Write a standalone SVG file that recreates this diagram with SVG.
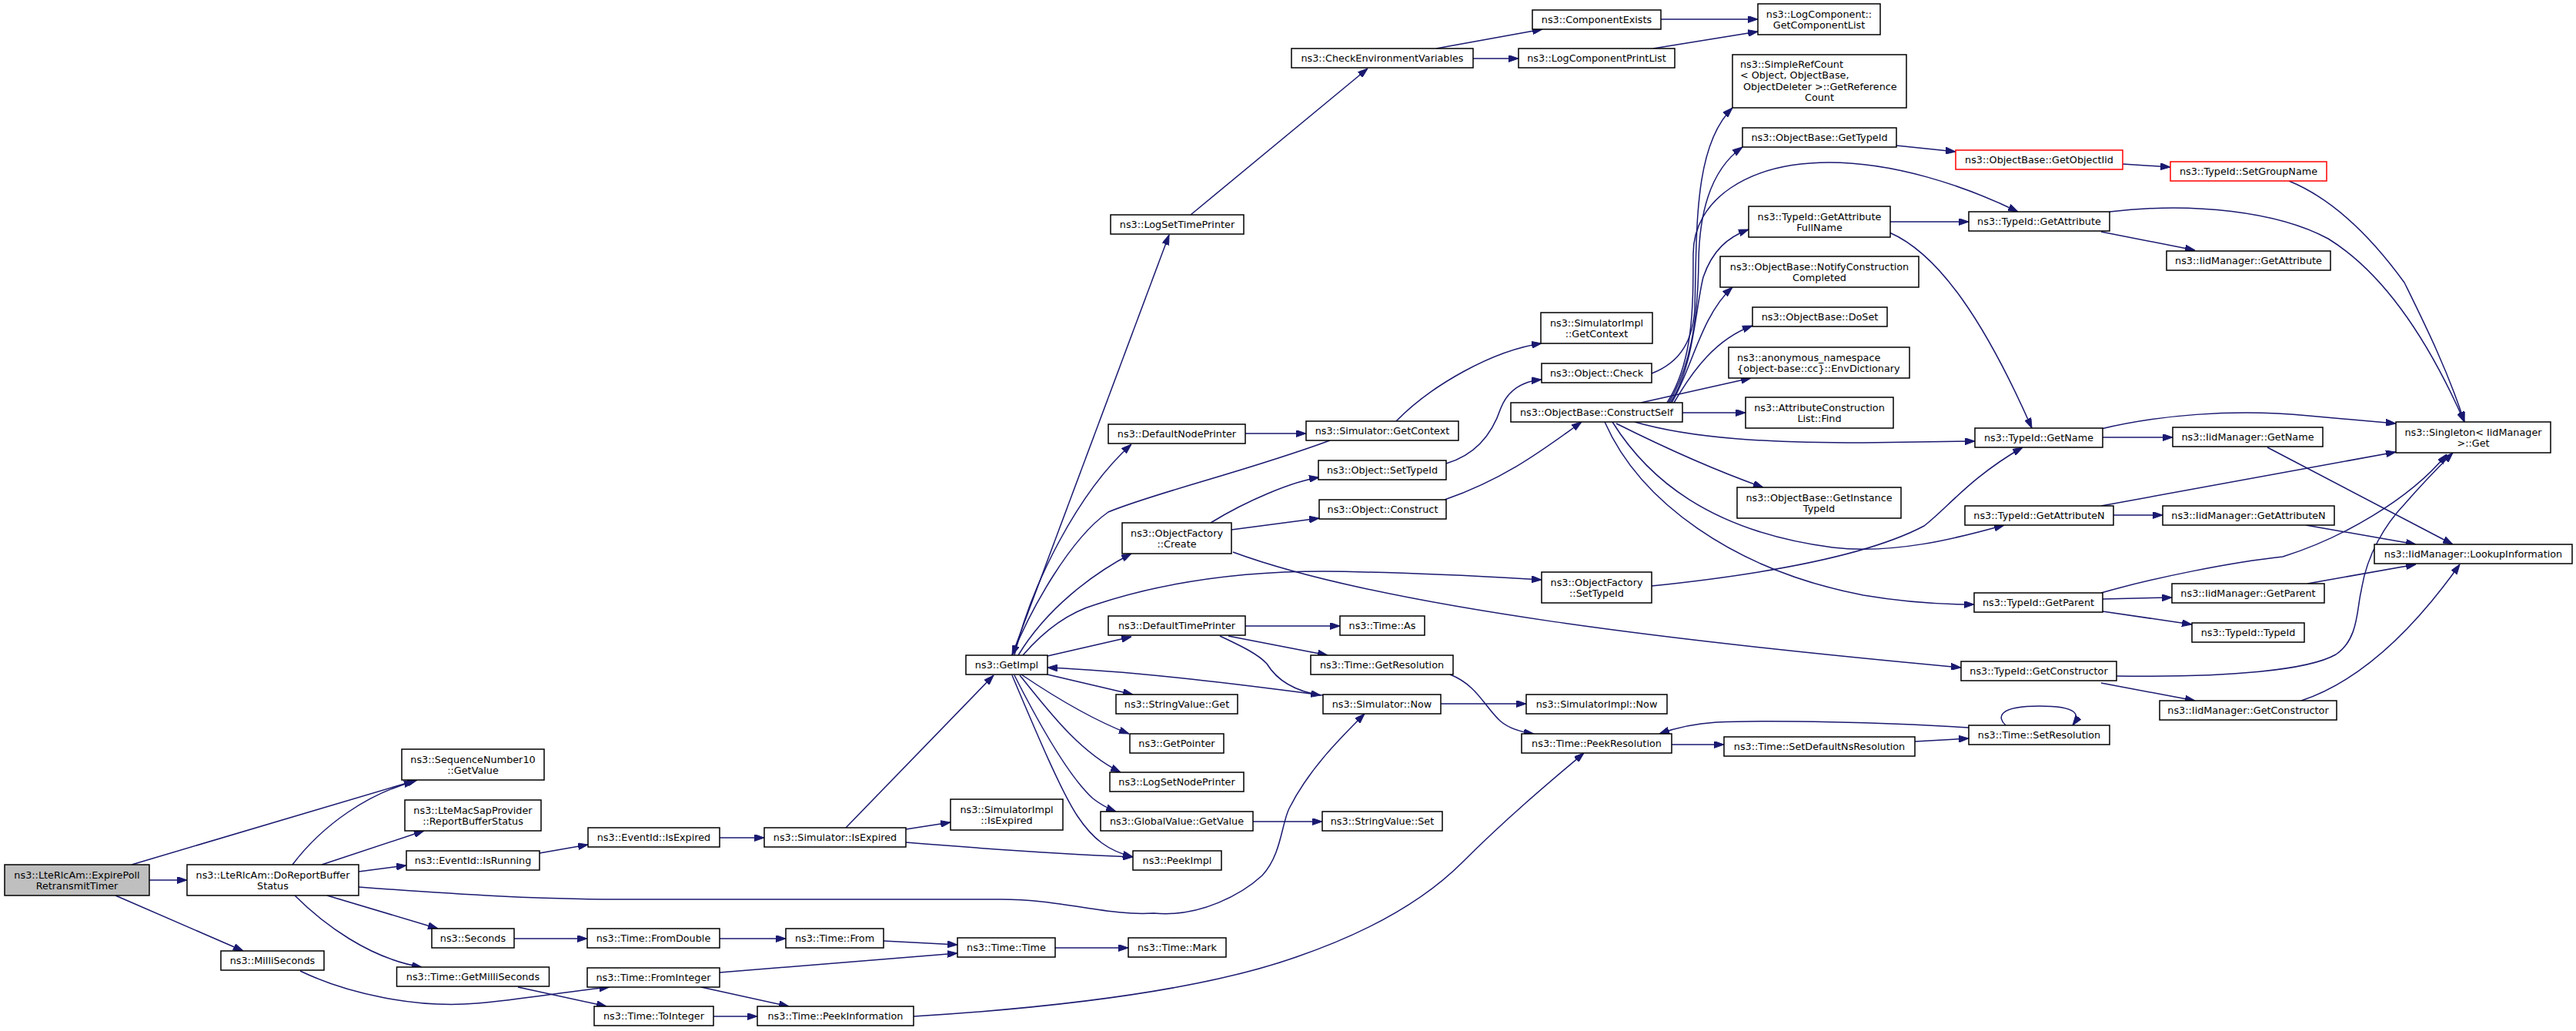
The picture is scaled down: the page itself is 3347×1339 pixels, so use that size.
<svg xmlns="http://www.w3.org/2000/svg" width="3347" height="1339" viewBox="0 0 3347 1339">
<defs>
<style>
.node rect{fill:#ffffff;stroke:#000000;stroke-width:1.5}
.node.root rect{fill:#bfbfbf}
.node.trunc rect{stroke:#ff0000}
.node text{font-family:"DejaVu Sans","Liberation Sans",sans-serif;font-size:12.8px;fill:#000000;text-anchor:middle}
.node text.l{text-anchor:start}
.edges path{fill:none;stroke:#191970;stroke-width:1.5;marker-end:url(#arr)}
</style>
<marker id="arr" markerUnits="userSpaceOnUse" viewBox="0 0 13 9" refX="13" refY="4.5" markerWidth="13" markerHeight="9" orient="auto">
<path d="M0,0 L13,4.5 L0,9 z" fill="#191970" stroke="#191970" stroke-width="1"/>
</marker>
</defs>
<rect width="3347" height="1339" fill="#ffffff"/>
<g id="connectors" class="edges">
<path d="M171,1123 L542,1013"/>
<path d="M194,1143 L243,1143"/>
<path d="M150,1163 L316,1235"/>
<path d="M380,1123 C420,1070 480,1030 538,1015"/>
<path d="M418,1123 L551,1079"/>
<path d="M466,1132 L528,1124"/>
<path d="M466,1152 C600,1162 700,1168 806,1168 L1300,1168 C1380,1168 1440,1190 1499,1186 C1560,1192 1615,1160 1640,1137 C1665,1110 1665,1070 1675,1050 C1700,1000 1740,960 1773,927"/>
<path d="M425,1163 L569,1206"/>
<path d="M383,1163 C420,1200 480,1245 548,1256"/>
<path d="M390,1261 C450,1290 540,1310 620,1303 C680,1298 740,1287 792,1282"/>
<path d="M673,1282 L788,1307"/>
<path d="M701,1108 L764,1097"/>
<path d="M935,1088 L993,1088"/>
<path d="M1177,1077 L1235,1068"/>
<path d="M1177,1094 C1300,1104 1400,1110 1472,1113"/>
<path d="M1099,1075 L1291,877"/>
<path d="M668,1219 L763,1219"/>
<path d="M935,1219 L1021,1219"/>
<path d="M1148,1222 L1244,1227"/>
<path d="M935,1263 L1244,1238"/>
<path d="M911,1282 L1025,1307"/>
<path d="M927,1320 L984,1320"/>
<path d="M1187,1320 C1350,1310 1550,1290 1684,1243 C1780,1210 1850,1170 1900,1120 C1960,1060 2020,1010 2058,978"/>
<path d="M1371,1231 L1466,1231"/>
<path d="M1315,851 L1519,305"/>
<path d="M1318,851 C1340,760 1400,640 1470,577"/>
<path d="M1728,572 C1620,612 1500,640 1440,665 C1390,700 1340,790 1315,851"/>
<path d="M1323,851 C1360,790 1420,745 1470,719"/>
<path d="M1329,851 C1360,815 1390,795 1424,785 C1530,750 1650,738 1774,743 C1870,745 1950,750 2003,753"/>
<path d="M1361,852 L1470,827"/>
<path d="M1618,813 L1741,813"/>
<path d="M1596,826 L1725,851"/>
<path d="M1585,826 C1615,840 1635,850 1646,862 C1660,885 1685,898 1716,903"/>
<path d="M1719,903 C1620,890 1480,872 1361,867"/>
<path d="M1361,876 L1472,902"/>
<path d="M1327,876 C1370,905 1420,935 1467,953"/>
<path d="M1325,877 C1360,920 1400,975 1456,1003"/>
<path d="M1318,877 C1350,940 1390,1010 1420,1037 C1430,1045 1440,1050 1450,1054"/>
<path d="M1315,877 C1350,960 1380,1030 1400,1060 C1420,1090 1440,1105 1472,1113"/>
<path d="M1628,1067 L1718,1067"/>
<path d="M1872,914 L1983,914"/>
<path d="M1884,876 C1920,890 1930,920 1950,937 C1962,947 1978,951 1993,953"/>
<path d="M2172,967 L2240,967"/>
<path d="M2488,963 L2558,959"/>
<path d="M2558,945 C2450,938 2300,935 2230,938 C2200,940 2175,946 2156,953"/>
<path d="M2606,942 C2595,932 2595,917 2650,917 C2700,917 2703,928 2693,942"/>
<path d="M1547,279 L1777,89"/>
<path d="M1866,63 L2004,38"/>
<path d="M1914,76 L1973,76"/>
<path d="M2158,25 L2284,25"/>
<path d="M2148,63 L2284,41"/>
<path d="M1618,563 L1697,563"/>
<path d="M1814,547 C1860,500 1940,455 2003,446"/>
<path d="M1573,679 C1620,650 1680,625 1714,620"/>
<path d="M1600,688 L1714,673"/>
<path d="M1602,717 C1800,790 2200,835 2548,867"/>
<path d="M1879,602 C1920,590 1940,560 1950,530 C1960,505 1980,495 2003,493"/>
<path d="M1877,649 C1960,620 2010,580 2055,548"/>
<path d="M2146,761 C2300,745 2430,720 2500,683 C2530,660 2560,620 2628,581"/>
<path d="M2146,485 C2185,470 2200,440 2202,400 C2205,300 2200,190 2251,140"/>
<path d="M2168,523 C2195,480 2206,420 2207,340 C2208,260 2230,215 2264,191"/>
<path d="M2166,523 C2200,470 2200,400 2200,330 C2200,260 2270,211 2377,211 C2460,211 2550,240 2622,275"/>
<path d="M2170,523 C2200,480 2203,400 2213,360 C2225,325 2245,308 2272,298"/>
<path d="M2172,523 C2198,480 2210,410 2251,373"/>
<path d="M2175,523 C2200,480 2230,440 2277,423"/>
<path d="M2132,523 L2275,491"/>
<path d="M2186,536 L2268,536"/>
<path d="M2124,548 C2200,570 2300,575 2420,575 L2566,573"/>
<path d="M2100,550 C2180,590 2240,615 2291,633"/>
<path d="M2095,548 C2140,620 2220,690 2381,711 C2460,720 2540,700 2604,682"/>
<path d="M2085,548 C2130,650 2250,740 2421,773 C2480,783 2530,785 2565,785"/>
<path d="M2464,189 L2541,197"/>
<path d="M2758,213 L2820,217"/>
<path d="M2974,235 C3040,262 3090,320 3124,367 C3150,420 3180,480 3202,548"/>
<path d="M2741,275 C2850,262 2960,275 3025,310 C3090,350 3150,430 3202,548"/>
<path d="M2456,288 L2558,288"/>
<path d="M2455,302 C2520,330 2580,420 2640,556"/>
<path d="M2730,301 L2852,325"/>
<path d="M2730,557 C2800,540 2900,530 3000,540 L3113,550"/>
<path d="M2732,568 L2823,568"/>
<path d="M2946,581 L3187,707"/>
<path d="M2730,657 L3113,587"/>
<path d="M2746,669 L2810,669"/>
<path d="M2996,682 L3139,707"/>
<path d="M2730,770 C2800,750 2900,730 2966,723 C3040,700 3130,650 3179,590"/>
<path d="M2732,778 L2822,776"/>
<path d="M2732,794 L2848,811"/>
<path d="M2998,758 L3139,733"/>
<path d="M2750,878 C2900,880 3000,870 3035,850 C3065,830 3062,790 3068,767 C3075,720 3100,680 3124,655 C3150,625 3170,605 3187,588"/>
<path d="M2730,887 L2852,910"/>
<path d="M2990,910 C3050,890 3120,840 3196,733"/>
</g>
<g id="n_expire" class="node root"><rect x="6" y="1123" width="188" height="40"/><text x="100" y="1140.5">ns3::LteRlcAm::ExpirePoll</text><text x="100" y="1155">RetransmitTimer</text></g>
<g id="n_dorbs" class="node"><rect x="243" y="1123" width="223" height="40"/><text x="354.5" y="1140.5">ns3::LteRlcAm::DoReportBuffer</text><text x="354.5" y="1155">Status</text></g>
<g id="n_sn10" class="node"><rect x="522" y="973" width="185" height="40"/><text x="614.5" y="990.5">ns3::SequenceNumber10</text><text x="614.5" y="1005">::GetValue</text></g>
<g id="n_lmsp" class="node"><rect x="526" y="1039" width="177" height="40"/><text x="614.5" y="1056.5">ns3::LteMacSapProvider</text><text x="614.5" y="1071">::ReportBufferStatus</text></g>
<g id="n_isrunning" class="node"><rect x="528" y="1105" width="173" height="25"/><text x="614.5" y="1122">ns3::EventId::IsRunning</text></g>
<g id="n_seconds" class="node"><rect x="561" y="1206" width="107" height="25"/><text x="614.5" y="1223">ns3::Seconds</text></g>
<g id="n_milli" class="node"><rect x="287" y="1235" width="134" height="25"/><text x="354" y="1252">ns3::MilliSeconds</text></g>
<g id="n_getms" class="node"><rect x="515.5" y="1256" width="198" height="25"/><text x="614.5" y="1273">ns3::Time::GetMilliSeconds</text></g>
<g id="n_isexpired" class="node"><rect x="764" y="1075" width="171" height="25"/><text x="849.5" y="1092">ns3::EventId::IsExpired</text></g>
<g id="n_simisexp" class="node"><rect x="993" y="1075" width="184" height="25"/><text x="1085" y="1092">ns3::Simulator::IsExpired</text></g>
<g id="n_simimplisexp" class="node"><rect x="1235" y="1038" width="146" height="40"/><text x="1308" y="1055.5">ns3::SimulatorImpl</text><text x="1308" y="1070">::IsExpired</text></g>
<g id="n_fromdouble" class="node"><rect x="763" y="1206" width="172" height="25"/><text x="849" y="1223">ns3::Time::FromDouble</text></g>
<g id="n_from" class="node"><rect x="1021" y="1206" width="127" height="25"/><text x="1084.5" y="1223">ns3::Time::From</text></g>
<g id="n_timetime" class="node"><rect x="1244" y="1218" width="127" height="25"/><text x="1307.5" y="1235">ns3::Time::Time</text></g>
<g id="n_frominteger" class="node"><rect x="763" y="1257" width="172" height="25"/><text x="849" y="1274">ns3::Time::FromInteger</text></g>
<g id="n_tointeger" class="node"><rect x="772" y="1307" width="155" height="25"/><text x="849.5" y="1324">ns3::Time::ToInteger</text></g>
<g id="n_peekinfo" class="node"><rect x="984" y="1307" width="203" height="25"/><text x="1085.5" y="1324">ns3::Time::PeekInformation</text></g>
<g id="n_mark" class="node"><rect x="1466" y="1218" width="127" height="25"/><text x="1529.5" y="1235">ns3::Time::Mark</text></g>
<g id="n_getimpl" class="node"><rect x="1255" y="851" width="106" height="25"/><text x="1308" y="868">ns3::GetImpl</text></g>
<g id="n_stringget" class="node"><rect x="1450" y="902" width="158" height="25"/><text x="1529" y="919">ns3::StringValue::Get</text></g>
<g id="n_getpointer" class="node"><rect x="1468" y="953" width="122" height="25"/><text x="1529" y="970">ns3::GetPointer</text></g>
<g id="n_logsetnode" class="node"><rect x="1442" y="1003" width="174" height="25"/><text x="1529" y="1020">ns3::LogSetNodePrinter</text></g>
<g id="n_globalget" class="node"><rect x="1430" y="1054" width="198" height="25"/><text x="1529" y="1071">ns3::GlobalValue::GetValue</text></g>
<g id="n_peekimpl" class="node"><rect x="1472" y="1105" width="115" height="25"/><text x="1529.5" y="1122">ns3::PeekImpl</text></g>
<g id="n_simnow" class="node"><rect x="1719" y="902" width="153" height="25"/><text x="1795.5" y="919">ns3::Simulator::Now</text></g>
<g id="n_stringset" class="node"><rect x="1718" y="1054" width="156" height="25"/><text x="1796" y="1071">ns3::StringValue::Set</text></g>
<g id="n_simimplnow" class="node"><rect x="1983" y="902" width="183" height="25"/><text x="2074.5" y="919">ns3::SimulatorImpl::Now</text></g>
<g id="n_peekres" class="node"><rect x="1977" y="953" width="195" height="25"/><text x="2074.5" y="970">ns3::Time::PeekResolution</text></g>
<g id="n_setdefns" class="node"><rect x="2240" y="957" width="248" height="25"/><text x="2364" y="974">ns3::Time::SetDefaultNsResolution</text></g>
<g id="n_setres" class="node"><rect x="2558" y="942" width="183" height="25"/><text x="2649.5" y="959">ns3::Time::SetResolution</text></g>
<g id="n_defnodeprinter" class="node"><rect x="1440" y="551" width="178" height="25"/><text x="1529" y="568">ns3::DefaultNodePrinter</text></g>
<g id="n_simgetctx" class="node"><rect x="1697" y="547" width="198" height="25"/><text x="1796" y="564">ns3::Simulator::GetContext</text></g>
<g id="n_simimplgetctx" class="node"><rect x="2002" y="406" width="145" height="40"/><text x="2074.5" y="423.5">ns3::SimulatorImpl</text><text x="2074.5" y="438">::GetContext</text></g>
<g id="n_objsettypeid" class="node"><rect x="1713" y="598" width="166" height="25"/><text x="1796" y="615">ns3::Object::SetTypeId</text></g>
<g id="n_objconstruct" class="node"><rect x="1714" y="649" width="165" height="25"/><text x="1796.5" y="666">ns3::Object::Construct</text></g>
<g id="n_ofcreate" class="node"><rect x="1458" y="679" width="142" height="40"/><text x="1529" y="696.5">ns3::ObjectFactory</text><text x="1529" y="711">::Create</text></g>
<g id="n_ofsettypeid" class="node"><rect x="2003" y="743" width="143" height="40"/><text x="2074.5" y="760.5">ns3::ObjectFactory</text><text x="2074.5" y="775">::SetTypeId</text></g>
<g id="n_deftimeprinter" class="node"><rect x="1440" y="800" width="178" height="25"/><text x="1529" y="817">ns3::DefaultTimePrinter</text></g>
<g id="n_timeas" class="node"><rect x="1741" y="800" width="110" height="25"/><text x="1796" y="817">ns3::Time::As</text></g>
<g id="n_getres" class="node"><rect x="1703" y="851" width="185" height="25"/><text x="1795.5" y="868">ns3::Time::GetResolution</text></g>
<g id="n_objcheck" class="node"><rect x="2003" y="472" width="143" height="25"/><text x="2074.5" y="489">ns3::Object::Check</text></g>
<g id="n_constructself" class="node"><rect x="1963" y="523" width="223" height="25"/><text x="2074.5" y="540">ns3::ObjectBase::ConstructSelf</text></g>
<g id="n_logsettime" class="node"><rect x="1443" y="279" width="173" height="25"/><text x="1529.5" y="296">ns3::LogSetTimePrinter</text></g>
<g id="n_checkenv" class="node"><rect x="1678" y="63" width="236" height="25"/><text x="1796" y="80">ns3::CheckEnvironmentVariables</text></g>
<g id="n_compexists" class="node"><rect x="1991" y="13" width="167" height="25"/><text x="2074.5" y="30">ns3::ComponentExists</text></g>
<g id="n_logprintlist" class="node"><rect x="1973" y="63" width="203" height="25"/><text x="2074.5" y="80">ns3::LogComponentPrintList</text></g>
<g id="n_getcomplist" class="node"><rect x="2284" y="5" width="159" height="40"/><text x="2363.5" y="22.5">ns3::LogComponent::</text><text x="2363.5" y="37">GetComponentList</text></g>
<g id="n_simpleref" class="node"><rect x="2251" y="71" width="226" height="69"/><text class="l" x="2261" y="87.5">ns3::SimpleRefCount</text><text class="l" x="2261" y="102">&lt; Object, ObjectBase,</text><text class="l" x="2265" y="116.5">ObjectDeleter &gt;::GetReference</text><text x="2364" y="131">Count</text></g>
<g id="n_obgettypeid" class="node"><rect x="2264" y="166" width="200" height="25"/><text x="2364" y="183">ns3::ObjectBase::GetTypeId</text></g>
<g id="n_getobjiid" class="node trunc"><rect x="2541" y="195" width="217" height="25"/><text x="2649.5" y="212">ns3::ObjectBase::GetObjectIid</text></g>
<g id="n_setgroup" class="node trunc"><rect x="2820" y="210" width="203" height="25"/><text x="2921.5" y="227">ns3::TypeId::SetGroupName</text></g>
<g id="n_getattrfull" class="node"><rect x="2272" y="268" width="184" height="40"/><text x="2364" y="285.5">ns3::TypeId::GetAttribute</text><text x="2364" y="300">FullName</text></g>
<g id="n_getattr" class="node"><rect x="2558" y="275" width="183" height="25"/><text x="2649.5" y="292">ns3::TypeId::GetAttribute</text></g>
<g id="n_iidgetattr" class="node"><rect x="2815" y="326" width="213" height="25"/><text x="2921.5" y="343">ns3::IidManager::GetAttribute</text></g>
<g id="n_notify" class="node"><rect x="2235" y="333" width="258" height="40"/><text x="2364" y="350.5">ns3::ObjectBase::NotifyConstruction</text><text x="2364" y="365">Completed</text></g>
<g id="n_doset" class="node"><rect x="2277" y="399" width="175" height="25"/><text x="2364.5" y="416">ns3::ObjectBase::DoSet</text></g>
<g id="n_envdict" class="node"><rect x="2246" y="451" width="235" height="40"/><text class="l" x="2257" y="468.5">ns3::anonymous_namespace</text><text class="l" x="2257" y="483">{object-base::cc}::EnvDictionary</text></g>
<g id="n_attrfind" class="node"><rect x="2268" y="516" width="192" height="40"/><text x="2364" y="533.5">ns3::AttributeConstruction</text><text x="2364" y="548">List::Find</text></g>
<g id="n_getinsttype" class="node"><rect x="2257" y="633" width="213" height="40"/><text x="2363.5" y="650.5">ns3::ObjectBase::GetInstance</text><text x="2363.5" y="665">TypeId</text></g>
<g id="n_getname" class="node"><rect x="2566" y="556" width="166" height="25"/><text x="2649" y="573">ns3::TypeId::GetName</text></g>
<g id="n_getattrn" class="node"><rect x="2553" y="657" width="193" height="25"/><text x="2649.5" y="674">ns3::TypeId::GetAttributeN</text></g>
<g id="n_getparent" class="node"><rect x="2565" y="770" width="167" height="25"/><text x="2648.5" y="787">ns3::TypeId::GetParent</text></g>
<g id="n_getctor" class="node"><rect x="2548" y="859" width="202" height="25"/><text x="2649" y="876">ns3::TypeId::GetConstructor</text></g>
<g id="n_iidgetname" class="node"><rect x="2823" y="555" width="195" height="25"/><text x="2920.5" y="572">ns3::IidManager::GetName</text></g>
<g id="n_singleton" class="node"><rect x="3113" y="548" width="201" height="40"/><text x="3213.5" y="565.5">ns3::Singleton&lt; IidManager</text><text x="3213.5" y="580">&gt;::Get</text></g>
<g id="n_iidgetattrn" class="node"><rect x="2810" y="657" width="223" height="25"/><text x="2921.5" y="674">ns3::IidManager::GetAttributeN</text></g>
<g id="n_lookup" class="node"><rect x="3085" y="707" width="257" height="25"/><text x="3213.5" y="724">ns3::IidManager::LookupInformation</text></g>
<g id="n_iidgetparent" class="node"><rect x="2822" y="758" width="198" height="25"/><text x="2921" y="775">ns3::IidManager::GetParent</text></g>
<g id="n_typeidtypeid" class="node"><rect x="2848" y="809" width="146" height="25"/><text x="2921" y="826">ns3::TypeId::TypeId</text></g>
<g id="n_iidgetctor" class="node"><rect x="2806" y="910" width="230" height="25"/><text x="2921" y="927">ns3::IidManager::GetConstructor</text></g>
</svg>
